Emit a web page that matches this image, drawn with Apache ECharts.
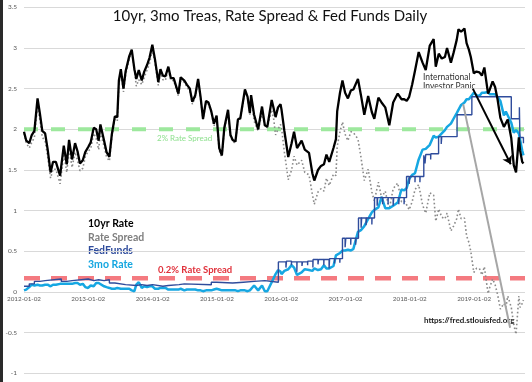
<!DOCTYPE html>
<html><head><meta charset="utf-8">
<script src="https://cdn.jsdelivr.net/npm/echarts@6/dist/echarts.min.js"></script>
<style>html,body{margin:0;padding:0;background:#fff}#c{width:532px;height:382px}</style>
</head><body><div id="c"></div>
<script>
// ---- tick labels ----
const xTickLabels = ['2012-01-02','2013-01-02','2014-01-02','2015-01-02','2016-01-02','2017-01-02','2018-01-02','2019-01-02'];

const dates = [
'2012-01-02','2012-01-15','2012-02-01','2012-02-15','2012-03-01','2012-03-19','2012-04-01','2012-04-15','2012-05-01','2012-05-15','2012-06-01','2012-06-15','2012-07-01','2012-07-25','2012-08-15','2012-09-01','2012-09-14','2012-10-01','2012-10-18','2012-11-01','2012-11-15','2012-12-01','2012-12-15','2012-12-31',
'2013-01-15','2013-02-01','2013-02-15','2013-03-01','2013-03-11','2013-04-01','2013-04-15','2013-05-01','2013-05-15','2013-06-01','2013-06-15','2013-06-24','2013-07-05','2013-07-20','2013-08-01','2013-08-22','2013-09-05','2013-09-20','2013-10-01','2013-10-15','2013-11-01','2013-11-15','2013-12-01','2013-12-15','2013-12-31',
'2014-01-15','2014-02-03','2014-02-15','2014-03-01','2014-03-15','2014-04-01','2014-04-15','2014-05-01','2014-05-28','2014-06-10','2014-07-01','2014-07-15','2014-08-01','2014-08-15','2014-09-01','2014-09-17','2014-10-01','2014-10-15','2014-11-01','2014-11-15','2014-12-01','2014-12-16','2014-12-31',
'2015-01-15','2015-01-30','2015-02-13','2015-03-06','2015-03-20','2015-04-01','2015-04-17','2015-05-01','2015-05-15','2015-06-10','2015-06-25','2015-07-08','2015-07-15','2015-08-01','2015-08-24','2015-09-15','2015-10-01','2015-10-15','2015-11-09','2015-11-20','2015-12-01','2015-12-15','2015-12-29',
'2016-01-04','2016-01-20','2016-02-11','2016-03-01','2016-03-15','2016-04-01','2016-04-27','2016-05-15','2016-06-08','2016-06-27','2016-07-08','2016-07-29','2016-08-15','2016-09-01','2016-09-15','2016-10-01','2016-10-25','2016-11-08','2016-11-15','2016-12-01','2016-12-15','2016-12-30',
'2017-01-15','2017-02-01','2017-02-15','2017-03-13','2017-03-30','2017-04-18','2017-05-10','2017-05-31','2017-06-14','2017-07-07','2017-07-25','2017-08-15','2017-09-07','2017-09-29','2017-10-25','2017-11-15','2017-12-01','2017-12-15','2017-12-29',
'2018-01-15','2018-01-31','2018-02-21','2018-03-15','2018-04-02','2018-04-25','2018-05-17','2018-05-29','2018-06-15','2018-07-02','2018-07-20','2018-08-01','2018-08-23','2018-09-07','2018-09-25','2018-10-05','2018-10-20','2018-11-08','2018-11-20','2018-12-03','2018-12-14','2018-12-31',
'2019-01-15','2019-02-01','2019-02-15','2019-03-01','2019-03-22','2019-04-01','2019-04-17','2019-05-01','2019-05-15','2019-05-31','2019-06-20','2019-07-01','2019-07-12','2019-08-01','2019-08-15','2019-08-28','2019-09-03','2019-09-13','2019-09-20','2019-10-02','2019-10-09'
];
const tenYr = [
1.97,1.86,1.83,1.93,1.98,2.38,2.20,1.98,1.95,1.76,1.47,1.60,1.60,1.43,1.80,1.57,1.87,1.63,1.83,1.73,1.58,1.62,1.72,1.78,
1.84,2.02,2.00,1.86,2.06,1.86,1.72,1.66,1.94,2.16,2.15,2.60,2.74,2.50,2.71,2.90,2.98,2.74,2.62,2.73,2.60,2.71,2.79,2.88,3.04,
2.86,2.58,2.74,2.66,2.65,2.77,2.63,2.63,2.44,2.64,2.60,2.55,2.50,2.34,2.42,2.62,2.40,2.13,2.35,2.33,2.22,2.07,2.17,
1.77,1.68,2.02,2.24,1.93,1.87,1.85,2.12,2.14,2.49,2.40,2.20,2.42,2.18,2.00,2.28,2.05,2.03,2.36,2.26,2.15,2.27,2.31,
2.24,1.98,1.66,1.83,1.97,1.77,1.86,1.75,1.71,1.46,1.37,1.50,1.55,1.57,1.69,1.60,1.77,1.88,2.22,2.45,2.60,2.45,
2.38,2.48,2.49,2.62,2.42,2.18,2.41,2.21,2.13,2.39,2.33,2.27,2.05,2.33,2.44,2.37,2.37,2.35,2.40,
2.55,2.72,2.95,2.82,2.73,3.03,3.11,2.77,2.93,2.87,2.89,3.00,2.82,2.94,3.10,3.23,3.20,3.24,3.06,2.98,2.89,2.69,
2.71,2.70,2.66,2.76,2.44,2.49,2.59,2.52,2.37,2.14,2.03,2.03,2.12,1.89,1.56,1.47,1.47,1.90,1.74,1.60,1.58
];
const threeMo = [
0.02,0.03,0.06,0.09,0.08,0.09,0.08,0.08,0.09,0.09,0.07,0.09,0.09,0.10,0.10,0.10,0.10,0.10,0.11,0.11,0.09,0.10,0.06,0.05,
0.08,0.07,0.11,0.11,0.10,0.07,0.06,0.05,0.04,0.04,0.05,0.04,0.04,0.04,0.04,0.04,0.02,0.01,0.09,0.12,0.05,0.07,0.06,0.07,0.07,
0.04,0.04,0.05,0.05,0.05,0.03,0.03,0.03,0.03,0.04,0.02,0.03,0.03,0.03,0.03,0.02,0.02,0.01,0.02,0.02,0.02,0.03,0.04,
0.03,0.02,0.02,0.02,0.02,0.02,0.02,0.01,0.02,0.02,0.01,0.02,0.02,0.08,0.02,0.08,0.01,0.01,0.12,0.13,0.22,0.27,0.25,
0.22,0.26,0.28,0.33,0.30,0.21,0.24,0.28,0.27,0.26,0.29,0.27,0.28,0.33,0.29,0.29,0.32,0.45,0.43,0.48,0.51,0.51,
0.52,0.51,0.53,0.74,0.76,0.81,0.90,0.98,1.01,1.04,1.17,1.03,1.03,1.06,1.10,1.26,1.25,1.28,1.39,
1.44,1.46,1.63,1.75,1.76,1.81,1.92,1.90,1.91,1.95,1.99,2.03,2.07,2.13,2.20,2.21,2.30,2.33,2.37,2.37,2.39,2.45,
2.42,2.41,2.45,2.45,2.46,2.43,2.43,2.43,2.40,2.35,2.17,2.22,2.17,2.08,1.96,1.99,1.97,1.95,1.93,1.74,1.68
];
const rateSpread = [
1.95,1.83,1.77,1.84,1.90,2.29,2.12,1.90,1.86,1.67,1.40,1.51,1.51,1.33,1.70,1.47,1.77,1.53,1.72,1.62,1.49,1.52,1.66,1.73,
1.76,1.95,1.89,1.75,1.96,1.79,1.66,1.61,1.90,2.12,2.10,2.56,2.70,2.46,2.67,2.86,2.96,2.73,2.53,2.61,2.55,2.64,2.73,2.81,2.97,
2.82,2.54,2.69,2.61,2.60,2.74,2.60,2.60,2.41,2.60,2.58,2.52,2.47,2.31,2.39,2.60,2.38,2.12,2.33,2.31,2.20,2.04,2.13,
1.74,1.66,2.00,2.22,1.91,1.85,1.83,2.11,2.12,2.47,2.39,2.18,2.40,2.10,1.98,2.20,2.04,2.02,2.24,2.13,1.93,2.00,2.06,
2.02,1.72,1.38,1.50,1.67,1.56,1.62,1.47,1.44,1.20,1.08,1.23,1.27,1.24,1.40,1.31,1.45,1.43,1.79,1.97,2.09,1.94,
1.86,1.97,1.96,1.88,1.66,1.37,1.51,1.23,1.12,1.35,1.16,1.24,1.02,1.27,1.34,1.11,1.12,1.07,1.01,
1.11,1.26,1.32,1.07,0.97,1.22,1.19,0.87,1.02,0.92,0.90,0.97,0.75,0.81,0.90,1.02,0.90,0.91,0.69,0.61,0.50,0.24,
0.29,0.29,0.21,0.31,-0.02,0.06,0.16,0.09,-0.03,-0.21,-0.14,-0.19,-0.05,-0.19,-0.40,-0.52,-0.50,-0.05,-0.19,-0.14,-0.10
];

// ---- Fed Funds (step) ----
const ffDates = [
'2012-01-02','2012-02-01','2012-03-01','2012-04-01','2012-05-01','2012-08-01','2012-09-01','2012-10-01',
'2013-01-01','2013-02-01','2013-03-01','2013-04-01','2013-05-01','2013-06-01','2013-08-01','2013-10-01','2013-11-01','2013-12-01',
'2014-01-01','2014-03-01','2014-04-01','2014-06-01','2014-07-01','2014-12-01',
'2015-01-01','2015-04-01','2015-06-01','2015-08-01','2015-10-01','2015-12-17',
'2016-01-29','2016-02-01','2016-02-29','2016-03-01','2016-03-31','2016-04-01','2016-04-29','2016-05-02','2016-05-31','2016-06-01','2016-06-30','2016-07-01','2016-07-29','2016-08-01','2016-08-31','2016-09-01','2016-09-30','2016-10-03','2016-10-31','2016-11-01','2016-11-30','2016-12-01','2016-12-15','2016-12-30',
'2017-01-03','2017-01-31','2017-02-01','2017-02-28','2017-03-01','2017-03-16','2017-03-31','2017-04-03','2017-04-28','2017-05-01','2017-05-31','2017-06-01','2017-06-15','2017-06-30','2017-07-03','2017-07-31','2017-08-01','2017-08-31','2017-09-01','2017-09-29','2017-10-02','2017-10-31','2017-11-01','2017-11-30','2017-12-01','2017-12-14','2017-12-29',
'2018-01-02','2018-01-31','2018-02-01','2018-02-28','2018-03-01','2018-03-22','2018-03-29','2018-04-02','2018-04-30','2018-05-01','2018-06-14','2018-06-29','2018-07-02','2018-09-27','2018-12-20',
'2019-08-01','2019-09-16','2019-09-19','2019-10-09'
];
const fedFunds = [
0.07,0.10,0.13,0.14,0.16,0.13,0.14,0.16,
0.14,0.15,0.14,0.15,0.11,0.09,0.08,0.09,0.08,0.09,
0.07,0.08,0.09,0.10,0.09,0.12,
0.11,0.12,0.13,0.14,0.12,0.37,
0.30,0.38,0.33,0.37,0.25,0.37,0.32,0.37,0.33,0.38,0.30,0.40,0.34,0.40,0.33,0.40,0.29,0.41,0.35,0.41,0.36,0.41,0.66,0.55,
0.66,0.58,0.66,0.58,0.66,0.91,0.79,0.91,0.82,0.91,0.83,0.91,1.16,1.06,1.16,1.08,1.16,1.08,1.16,1.06,1.16,1.08,1.16,1.08,1.16,1.42,1.33,
1.42,1.35,1.42,1.35,1.42,1.68,1.58,1.69,1.63,1.70,1.91,1.82,1.91,2.18,2.40,
2.13,2.27,1.90,1.83
];

// ---- reference levels & annotations ----
const spreadRef2 = 2.0;
const spreadRef02 = 0.17;
const blackArrow = [[6.98, 2.50], [7.57, 1.57]];
const grayLine = [[6.83, 2.31], [7.56, -0.44]];

const T0 = Date.UTC(2012, 0, 2);
function yrs(d) { const p = d.split('-'); return (Date.UTC(+p[0], +p[1] - 1, +p[2]) - T0) / (365.25 * 864e5); }
const XMAX = 501 / 64.3;

const pts = (ds, vs) => ds.map((d, i) => [yrs(d), vs[i]]);
const F = 'Lato, "Open Sans", sans-serif';

const chart = echarts.init(document.getElementById('c'), null, { renderer: 'canvas' });
chart.setOption({
  animation: false,
  backgroundColor: '#fff',
  grid: { left: 24, top: 7.33, width: 501, height: 366, containLabel: false, outerBoundsMode: 'none' },
  xAxis: {
    type: 'value', min: 0, max: XMAX, interval: 1, position: 'bottom',
    axisLine: { onZero: false, show: false },
    axisTick: { show: false }, splitLine: { show: false },
    axisLabel: { showMaxLabel: false, fontSize: 6.3, color: '#595959', fontFamily: F, margin: -77,
      formatter: v => (Math.abs(v - Math.round(v)) < 1e-6 && xTickLabels[Math.round(v)]) ? xTickLabels[Math.round(v)] : '' }
  },
  yAxis: {
    type: 'value', min: -1, max: 3.5, interval: 0.5,
    axisLine: { show: false }, axisTick: { show: false },
    splitLine: { lineStyle: { color: '#D9D9D9', width: 1 } },
    axisLabel: { fontSize: 6.5, color: '#595959', fontFamily: F, margin: 7 }
  },
  series: [
    { type: 'line', silent: true, symbol: 'none', z: 1, data: [[0, spreadRef2], [XMAX, spreadRef2]],
      lineStyle: { color: '#9DE89D', width: 4, type: [14, 13] } },
    { type: 'line', silent: true, symbol: 'none', z: 1, data: [[0, spreadRef02], [XMAX, spreadRef02]],
      lineStyle: { color: '#F47A80', width: 4.5, type: [16, 11] } },
    { name: 'Rate Spread', type: 'line', symbol: 'none', z: 2, data: pts(dates, rateSpread),
      lineStyle: { color: '#8A8A8A', width: 1.6, type: [1.6, 2.4] } },
    { name: '3mo Rate', type: 'line', symbol: 'none', z: 3, data: pts(dates, threeMo),
      lineStyle: { color: '#16A7E2', width: 2.5 } },
    { name: 'FedFunds', type: 'line', symbol: 'none', z: 4, step: 'end', data: pts(ffDates, fedFunds),
      lineStyle: { color: '#2F4C9C', width: 1.4 } },
    { name: '10yr Rate', type: 'line', symbol: 'none', z: 5, data: pts(dates, tenYr),
      lineStyle: { color: '#000', width: 2.3 },
      markLine: { silent: true, label: { show: false }, animation: false,
        data: [
          [{ coord: blackArrow[0], symbol: 'none', lineStyle: { color: '#000', width: 2, type: 'solid' } },
           { coord: blackArrow[1], symbol: 'arrow', symbolSize: 8 }],
          [{ coord: grayLine[0], symbol: 'none', lineStyle: { color: '#A6A6A6', width: 2, type: 'solid' } },
           { coord: grayLine[1], symbol: 'none' }]
        ] } }
  ],
  graphic: [
    { type: 'rect', shape: { x: 0, y: 0, width: 3, height: 382 }, style: { fill: '#2a2a2a' }, silent: true },
    { type: 'text', x: 270, y: 16, style: { text: '10yr, 3mo Treas, Rate Spread & Fed Funds Daily', font: '15px ' + F, fill: '#111', align: 'center', verticalAlign: 'middle' } },
    { type: 'text', x: 157, y: 138, style: { text: '2% Rate Spread', font: '8px ' + F, fill: '#8EE08E', verticalAlign: 'middle' } },
    { type: 'text', x: 158, y: 270, style: { text: '0.2% Rate Spread', font: 'bold 9.5px ' + F, fill: '#E0303A', verticalAlign: 'middle' } },
    { type: 'text', x: 88, y: 224, style: { text: '10yr Rate', font: 'bold 10.5px ' + F, fill: '#000', verticalAlign: 'middle' } },
    { type: 'text', x: 88, y: 237.5, style: { text: 'Rate Spread', font: 'bold 10.5px ' + F, fill: '#7F7F7F', verticalAlign: 'middle' } },
    { type: 'text', x: 88, y: 251, style: { text: 'FedFunds', font: 'bold 10.5px ' + F, fill: '#2F4C9C', verticalAlign: 'middle' } },
    { type: 'text', x: 88, y: 264.5, style: { text: '3mo Rate', font: 'bold 10.5px ' + F, fill: '#14A6E0', verticalAlign: 'middle' } },
    { type: 'text', x: 423, y: 77, style: { text: 'International', font: '8.5px ' + F, fill: '#333', verticalAlign: 'middle' } },
    { type: 'text', x: 423, y: 86, style: { text: 'Investor Panic', font: '8.5px ' + F, fill: '#333', verticalAlign: 'middle' } },
    { type: 'text', x: 424, y: 320, style: { text: 'https://fred.stlouisfed.org', font: 'bold 8px ' + F, fill: '#222', verticalAlign: 'middle' } }
  ]
});
</script></body></html>
